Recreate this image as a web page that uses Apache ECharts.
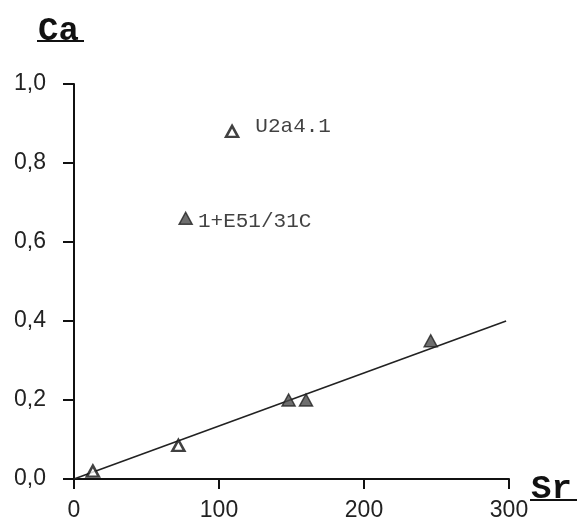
<!DOCTYPE html>
<html>
<head>
<meta charset="utf-8">
<script src="https://cdn.jsdelivr.net/npm/echarts@6/dist/echarts.min.js"></script>
<style>
html,body{margin:0;padding:0;background:#fff;}
#chart{width:580px;height:525px;}
</style>
</head>
<body>
<div id="chart"></div>
<script>
// ---- data ----
var xTicks = [0, 100, 200, 300];
var yTicks = [0.0, 0.2, 0.4, 0.6, 0.8, 1.0];
var openSr = [13, 72, 109];
var openCa = [0.02, 0.085, 0.88];
var openLabels = ['', '', 'U2a4.1'];
var filledSr = [148, 160, 246, 77];
var filledCa = [0.20, 0.20, 0.35, 0.66];
var filledLabels = ['', '', '', '1+E51/31C'];
var fitSr = [0, 298];
var fitCa = [0.0, 0.40];
var xTitle = 'Sr';
var yTitle = 'Ca';

// ---- build ----
var labelFont = 'Liberation Mono, DejaVu Sans Mono, monospace';
function makePoints(xs, ys, labels, labelStyles) {
  return xs.map(function (x, i) {
    var item = { value: [x, ys[i]] };
    if (labels[i]) {
      var s = labelStyles[labels[i]] || {};
      item.label = {
        show: true,
        formatter: labels[i],
        position: 'right',
        distance: s.distance || 8,
        offset: s.offset || [0, 0],
        color: '#111',
        fontFamily: labelFont,
        fontSize: 21
      };
    }
    return item;
  });
}
var labelStyles = {
  'U2a4.1': { distance: 16, offset: [0, -5] },
  '1+E51/31C': { distance: 5, offset: [0, 3] }
};

var chart = echarts.init(document.getElementById('chart'), null, { renderer: 'canvas' });
var axisColor = '#111';
var tickFont = 'Liberation Sans, Arial, sans-serif';

var gridLeft = 74, gridTop = 84, gridRight = 71, gridBottom = 46;

chart.setOption({
  backgroundColor: '#ffffff',
  animation: false,
  grid: { left: gridLeft, right: gridRight, top: gridTop, bottom: gridBottom, containLabel: false },
  xAxis: {
    type: 'value',
    min: xTicks[0],
    max: xTicks[xTicks.length - 1],
    interval: xTicks[1] - xTicks[0],
    splitLine: { show: false },
    axisLine: { show: true, onZero: false, lineStyle: { color: axisColor, width: 2 } },
    axisTick: { show: true, inside: false, length: 10, lineStyle: { color: axisColor, width: 2 } },
    axisLabel: {
      color: '#222', fontFamily: tickFont, fontSize: 23, margin: 20,
      formatter: function (v) { return String(v); }
    }
  },
  yAxis: {
    type: 'value',
    min: yTicks[0],
    max: yTicks[yTicks.length - 1],
    interval: 0.2,
    splitLine: { show: false },
    axisLine: { show: true, onZero: false, lineStyle: { color: axisColor, width: 2 } },
    axisTick: { show: true, inside: false, length: 11, lineStyle: { color: axisColor, width: 2 } },
    axisLabel: {
      color: '#222', fontFamily: tickFont, fontSize: 23, margin: 28,
      formatter: function (v) { return v.toFixed(1).replace('.', ','); }
    }
  },
  graphic: [
    { type: 'text', left: 38, top: 14, style: { text: yTitle, font: 'bold 34px Liberation Mono, monospace', fill: '#111' } },
    { type: 'line', shape: { x1: 37, y1: 41, x2: 84, y2: 41 }, style: { stroke: '#111', lineWidth: 2 } },
    { type: 'text', left: 531, top: 472, style: { text: xTitle, font: 'bold 34px Liberation Mono, monospace', fill: '#111' } },
    { type: 'line', shape: { x1: 530, y1: 500, x2: 577, y2: 500 }, style: { stroke: '#111', lineWidth: 2 } }
  ],
  series: [
    {
      type: 'line',
      data: fitSr.map(function (x, i) { return [x, fitCa[i]]; }),
      symbol: 'none',
      lineStyle: { color: '#222', width: 1.6 },
      z: 2
    },
    {
      type: 'scatter',
      data: makePoints(openSr, openCa, openLabels, labelStyles),
      symbol: 'triangle',
      symbolSize: [12, 11],
      itemStyle: { color: '#ffffff', borderColor: '#111', borderWidth: 2.5 },
      z: 3
    },
    {
      type: 'scatter',
      data: makePoints(filledSr, filledCa, filledLabels, labelStyles),
      symbol: 'triangle',
      symbolSize: [13, 12],
      itemStyle: { color: '#4a4a4a', borderColor: '#222', borderWidth: 1.5 },
      z: 3
    }
  ]
});
</script>
</body>
</html>
